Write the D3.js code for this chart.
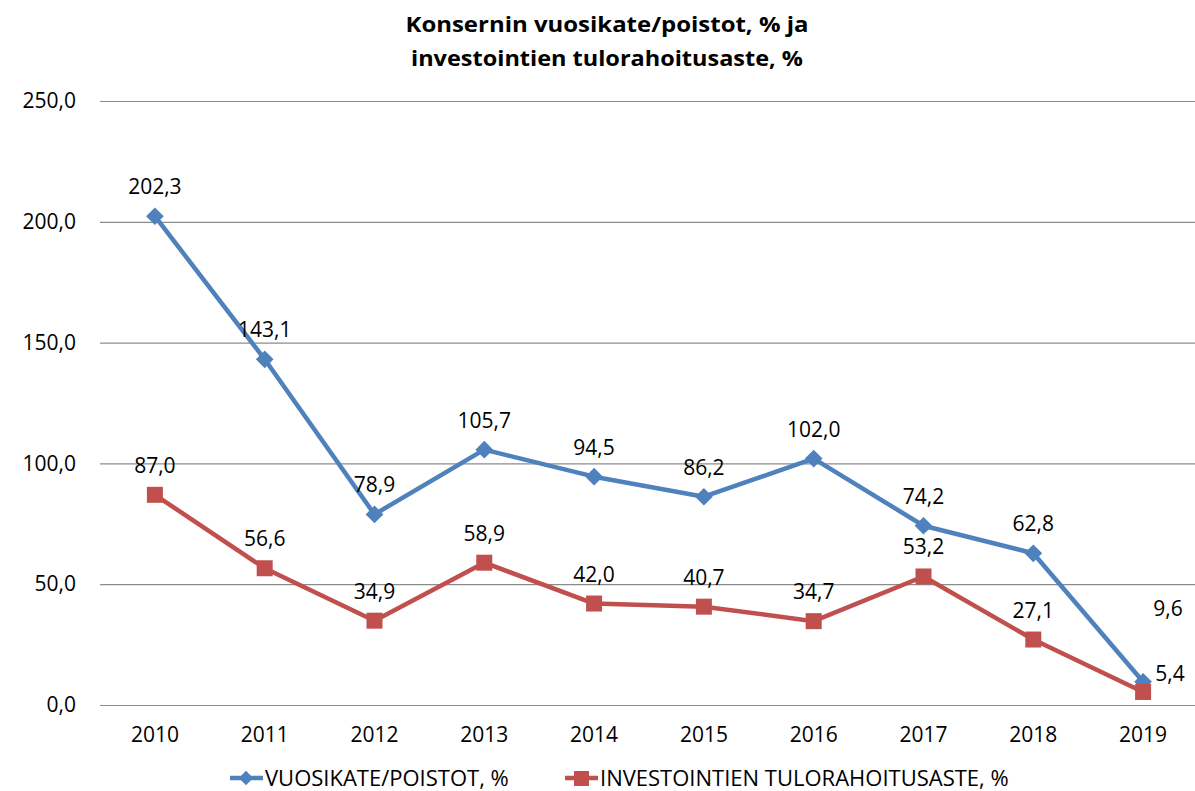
<!DOCTYPE html>
<html><head><meta charset="utf-8">
<script src="https://cdn.jsdelivr.net/npm/d3@7"></script>
<style>body{margin:0;background:#fff;} svg{display:block;font-family:"Open Sans","Liberation Sans",sans-serif;}</style>
</head><body><svg id="c" width="1195" height="791"></svg>
<script>
const years = ["2010","2011","2012","2013","2014","2015","2016","2017","2018","2019"];
const vuosikate = [202.3,143.1,78.9,105.7,94.5,86.2,102.0,74.2,62.8,9.6];
const investoinnit = [87.0,56.6,34.9,58.9,42.0,40.7,34.7,53.2,27.1,5.4];
const yTicks = [0,50,100,150,200,250];
const seriesNames = ["VUOSIKATE/POISTOT, %","INVESTOINTIEN TULORAHOITUSASTE, %"];
const titleLines = ["Konsernin vuosikate/poistot, % ja","investointien tulorahoitusaste, %"];

const FF="'Open Sans','Liberation Sans',sans-serif";
const FS=21;
const svg = d3.select("#c");
const m={left:100,right:1198,top:101,bottom:705};
const x=d3.scaleBand().domain(years).range([m.left,m.right]);
const y=d3.scaleLinear().domain([0,250]).range([m.bottom,m.top]);
const fmt=v=>d3.format(".1f")(v).replace(".",",");
const blue="#4F81BD", red="#C0504D";

// title
const titleW=[403,392];
svg.append("g").selectAll("text").data(titleLines).join("text")
  .attr("x",607).attr("y",(d,i)=>32+i*34).attr("text-anchor","middle")
  .attr("font-size",22).attr("font-weight","bold").attr("fill","#000")
  .attr("textLength",(d,i)=>titleW[i]).attr("lengthAdjust","spacingAndGlyphs").text(d=>d);

// grid
const yAxis=d3.axisLeft(y).tickValues(yTicks).tickSize(-(m.right-m.left)).tickFormat(fmt).tickPadding(24);
const ga=svg.append("g").attr("transform",`translate(${m.left},0)`).call(yAxis);
ga.select(".domain").remove();
ga.selectAll(".tick line").attr("stroke","#8c8c8c").attr("stroke-width",1.2);
ga.selectAll(".tick text").attr("font-size",FS).attr("fill","#000").attr("font-family",FF);

const xAxis=d3.axisBottom(x).tickSize(0).tickPadding(22);
const gx=svg.append("g").attr("transform",`translate(0,${m.bottom})`).call(xAxis);
gx.select(".domain").remove();
gx.selectAll(".tick text").attr("font-size",FS).attr("fill","#000").attr("font-family",FF);

const cx=d=>x(d)+x.bandwidth()/2;
const line=d3.line().x((d,i)=>cx(years[i])).y(d=>y(d));

function drawSeries(vals,color,shape){
  svg.append("path").datum(vals).attr("d",line).attr("fill","none").attr("stroke",color).attr("stroke-width",4.5).attr("stroke-linejoin","round");
  const g=svg.append("g");
  if(shape==="diamond"){
    g.selectAll("path").data(vals).join("path")
      .attr("d",d3.symbol(d3.symbolDiamond2,200)())
      .attr("transform",(d,i)=>`translate(${cx(years[i])},${y(d)})`).attr("fill",color);
  } else {
    g.selectAll("rect").data(vals).join("rect")
      .attr("x",(d,i)=>cx(years[i])-8).attr("y",d=>y(d)-8).attr("width",16).attr("height",16).attr("fill",color);
  }
}
drawSeries(vuosikate,blue,"diamond");
drawSeries(investoinnit,red,"square");

function labels(vals,last){
  svg.append("g").selectAll("text").data(vals).join("text")
    .attr("x",(d,i)=>cx(years[i])+(i===vals.length-1?last[0]:0))
    .attr("y",(d,i)=>y(d)+(i===vals.length-1?last[1]:-22))
    .attr("text-anchor","middle").attr("font-size",FS).attr("fill","#000").text(fmt);
}
labels(vuosikate,[25,-66]);
labels(investoinnit,[27,-11]);

// legend
const lg=svg.append("g").attr("font-size",22);
lg.append("line").attr("x1",230).attr("x2",263).attr("y1",778).attr("y2",778).attr("stroke",blue).attr("stroke-width",4.5);
lg.append("path").attr("d",d3.symbol(d3.symbolDiamond2,130)()).attr("transform","translate(246,778)").attr("fill",blue);
lg.append("text").attr("x",265).attr("y",786).text(seriesNames[0]);
lg.append("line").attr("x1",565).attr("x2",598).attr("y1",778).attr("y2",778).attr("stroke",red).attr("stroke-width",4.5);
lg.append("rect").attr("x",574).attr("y",771).attr("width",15).attr("height",15).attr("fill",red);
lg.append("text").attr("x",600).attr("y",786).text(seriesNames[1]);
</script></body></html>
